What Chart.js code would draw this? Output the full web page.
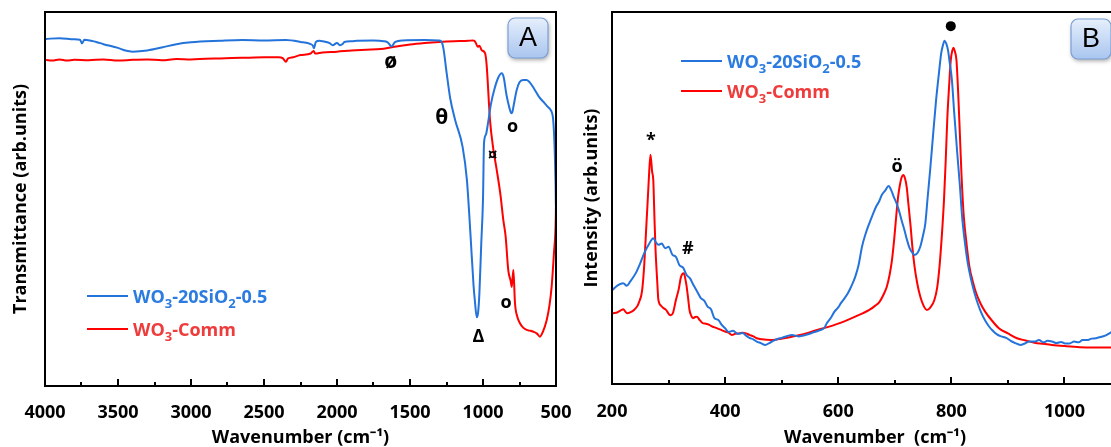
<!DOCTYPE html>
<html>
<head>
<meta charset="utf-8">
<script src="https://cdn.jsdelivr.net/npm/chart.js@4.4.0/dist/chart.umd.min.js"></script>
<style>
	html, body { margin: 0; padding: 0; background: #fff; overflow: hidden; width: 1111px; height: 447px; }
	#wrap-a { position: absolute; left: 0; top: 0; }
	#wrap-b { position: absolute; left: 570px; top: 0; }
</style>
</head>
<body>
<div id="wrap-a"><canvas id="ftir-chart" width="580" height="447"></canvas></div>
<div id="wrap-b"><canvas id="raman-chart" width="570" height="447"></canvas></div>
<script>
// FTIR spectra (panel A), wavenumber in cm-1, transmittance in arbitrary units
var ftirSilicaX = [3995, 3900, 3800, 3760, 3747, 3730, 3650, 3600, 3500, 3450, 3400, 3300, 3200, 3100, 3000, 2800, 2650, 2500, 2350, 2250, 2180, 2165, 2158, 2145, 2120, 2100, 2050, 2030, 2000, 1980, 1960, 1950, 1900, 1863, 1750, 1680, 1650, 1640, 1625, 1610, 1600, 1550, 1400, 1300, 1283, 1270, 1250, 1225, 1190, 1140, 1110, 1085, 1065, 1055, 1043, 1034, 1025, 1012, 1000, 993, 980, 965, 945, 921, 895, 872, 858, 840, 820, 806, 799, 790, 770, 750, 726, 701, 680, 650, 616, 580, 555, 540, 527, 520, 514, 508, 503, 500];
var ftirSilicaY = [92.8, 93.0, 92.7, 92.6, 91.6, 92.6, 92.0, 91.4, 90.4, 89.7, 89.4, 89.7, 90.5, 91.4, 91.9, 92.3, 92.5, 92.4, 92.5, 92.0, 91.4, 91.0, 90.3, 92.0, 92.3, 92.2, 91.7, 91.1, 91.7, 91.1, 91.5, 92.0, 92.2, 92.3, 92.4, 92.2, 91.8, 91.3, 90.8, 91.6, 92.0, 92.4, 92.5, 92.4, 92.0, 90.0, 84.0, 77.0, 71.0, 64.0, 55.0, 40.0, 27.0, 22.5, 18.4, 19.5, 24.5, 38.0, 50.0, 65.0, 67.2, 70.5, 75.5, 79.5, 82.5, 83.6, 82.5, 78.0, 74.5, 72.9, 73.2, 75.0, 79.0, 81.2, 81.8, 81.8, 81.2, 79.5, 77.3, 75.7, 74.6, 74.0, 73.0, 71.5, 68.0, 62.0, 54.0, 45.7];
var ftirCommX = [3995, 3950, 3900, 3850, 3800, 3700, 3600, 3500, 3400, 3300, 3200, 3100, 3000, 2900, 2800, 2720, 2600, 2500, 2400, 2370, 2350, 2335, 2300, 2250, 2180, 2160, 2150, 2100, 2000, 1900, 1800, 1700, 1623, 1500, 1400, 1300, 1200, 1100, 1070, 1060, 1050, 1036, 1025, 1009, 986, 975, 952, 930, 906, 880, 861, 845, 827, 810, 803, 792, 781, 765, 747, 725, 701, 680, 655, 630, 610, 590, 564, 545, 530, 514, 503, 500];
var ftirCommY = [87.2, 87.0, 87.3, 87.0, 87.2, 87.1, 87.3, 87.0, 87.2, 87.3, 87.1, 87.4, 87.3, 87.5, 87.6, 87.7, 87.8, 87.9, 87.9, 87.6, 86.7, 87.6, 87.9, 88.5, 88.9, 89.6, 88.9, 89.2, 89.4, 89.7, 89.9, 90.1, 90.6, 91.3, 91.7, 92.0, 92.2, 92.3, 92.4, 92.3, 91.8, 90.7, 91.0, 89.8, 89.0, 85.8, 71.1, 63.5, 57.8, 51.0, 44.4, 40.0, 31.0, 28.0, 26.5, 31.0, 22.2, 18.5, 16.8, 15.6, 15.0, 14.8, 14.5, 14.0, 13.2, 14.5, 17.6, 21.5, 26.5, 35.5, 42.6, 48.0];

// Raman spectra (panel B), intensity in arbitrary units
var ramanSilicaX = [201, 210, 220, 226, 232, 242, 250, 257, 265, 273, 278, 282, 288, 294, 300, 307, 313, 319, 326, 332, 338, 344, 350, 357, 363, 369, 375, 381, 388, 394, 400, 406, 414, 422, 431, 437, 443, 450, 456, 463, 471, 478, 485, 493, 500, 510, 518, 530, 543, 555, 568, 575, 580, 587, 593, 600, 605, 611, 617, 623, 630, 636, 642, 648, 655, 661, 667, 672, 677, 683, 689, 694, 698, 703, 707, 712, 717, 722, 726, 731, 735, 740, 745, 750, 754, 758, 763, 768, 773, 778, 782, 785, 788, 791, 794, 797, 801, 805, 810, 815, 819, 824, 829, 835, 841, 847, 853, 860, 866, 872, 880, 888, 897, 905, 913, 922, 930, 938, 947, 955, 963, 970, 978, 986, 994, 1001, 1009, 1017, 1025, 1032, 1040, 1048, 1056, 1065, 1072, 1080, 1090, 1110, 1130];
var ramanSilicaY = [25.3, 26.5, 27.1, 26.4, 27.5, 29.8, 32.5, 35.2, 37.5, 39.2, 38.0, 37.4, 37.8, 36.5, 36.9, 34.7, 34.2, 32.0, 31.2, 29.3, 28.4, 26.6, 25.0, 23.1, 22.4, 20.8, 20.1, 17.7, 17.2, 15.9, 15.0, 14.0, 14.3, 13.5, 13.7, 13.0, 12.4, 12.0, 11.4, 11.0, 10.5, 11.0, 11.6, 12.1, 12.4, 12.9, 13.2, 12.8, 13.2, 13.8, 14.5, 15.0, 16.4, 17.8, 19.4, 20.6, 21.8, 23.0, 24.4, 26.2, 28.8, 32.0, 36.9, 40.2, 43.2, 45.5, 47.7, 49.0, 50.8, 52.0, 53.2, 52.0, 50.4, 48.6, 46.8, 44.0, 41.4, 38.5, 36.6, 35.3, 34.7, 35.2, 36.9, 40.0, 43.2, 50.0, 58.4, 67.5, 76.3, 83.5, 88.9, 91.0, 92.3, 91.5, 89.8, 86.5, 81.7, 73.0, 62.9, 53.5, 45.0, 38.0, 32.5, 28.0, 24.4, 21.5, 19.1, 17.0, 15.6, 14.5, 13.4, 12.8, 12.4, 11.6, 11.0, 10.5, 10.9, 11.4, 11.4, 11.8, 11.2, 11.6, 11.4, 11.0, 11.3, 10.9, 10.9, 11.4, 11.2, 11.8, 11.8, 12.2, 12.3, 12.7, 13.0, 13.7, 14.5, 15.5, 16.0];
var ramanCommX = [201, 210, 217, 220, 224, 227, 233, 239, 245, 248, 252, 254, 257, 260, 263, 265, 268, 271, 273, 275, 277, 280, 282, 287, 291, 295, 298, 301, 304, 308, 313, 318, 322, 327, 330, 332, 335, 337, 340, 343, 347, 350, 355, 360, 366, 372, 378, 384, 392, 400, 406, 412, 418, 425, 431, 437, 443, 450, 456, 465, 481, 495, 512, 527, 543, 558, 574, 590, 605, 618, 630, 643, 655, 665, 673, 680, 686, 691, 695, 699, 703, 706, 709, 712, 715, 718, 721, 724, 728, 731, 735, 740, 745, 751, 757, 763, 770, 775, 779, 783, 787, 790, 793, 796, 799, 802, 804, 806, 809, 812, 815, 818, 822, 827, 832, 838, 844, 852, 860, 872, 884, 900, 916, 931, 947, 962, 978, 1000, 1027, 1050, 1080, 1100, 1130];
var ramanCommY = [19.0, 19.3, 19.9, 20.1, 19.4, 19.0, 19.3, 19.9, 21.0, 22.1, 24.0, 26.2, 32.0, 40.5, 49.0, 54.8, 61.6, 57.0, 54.8, 45.0, 36.0, 27.5, 22.6, 21.0, 20.4, 20.0, 19.4, 18.7, 18.5, 19.2, 22.6, 25.5, 28.8, 29.8, 28.0, 26.2, 22.5, 19.9, 18.4, 17.7, 18.0, 18.1, 17.2, 16.4, 16.2, 15.9, 15.4, 15.1, 14.6, 14.1, 13.8, 13.2, 13.5, 13.6, 13.8, 13.6, 13.2, 12.8, 12.3, 12.0, 11.8, 12.1, 12.5, 13.0, 13.6, 14.3, 15.0, 15.7, 16.5, 17.3, 18.1, 19.0, 19.9, 21.0, 22.1, 24.0, 26.2, 29.5, 33.3, 39.0, 45.9, 50.5, 53.5, 55.5, 56.2, 55.3, 53.0, 48.5, 42.3, 37.0, 31.5, 26.8, 23.5, 21.0, 19.9, 20.6, 22.6, 26.0, 31.5, 39.5, 49.5, 60.0, 71.9, 80.0, 87.1, 89.8, 90.4, 89.5, 87.1, 78.5, 67.4, 56.0, 45.0, 37.5, 31.5, 27.5, 24.4, 21.5, 19.4, 17.0, 15.0, 13.6, 12.3, 11.7, 11.1, 10.8, 10.5, 10.2, 9.9, 9.8, 9.8, 9.8, 9.8];

// Axis ticks
var ftirTicksMajor = [500, 1000, 1500, 2000, 2500, 3000, 3500, 4000];
var ftirTicksMinor = [750, 1250, 1750, 2250, 2750, 3250, 3750];
var ramanTicksMajor = [200, 400, 600, 800, 1000];
var ramanTicksMinor = [300, 500, 700, 900, 1100];

// Peak marks
var ftirMarkX = [1632, 1283, 797, 934, 842, 1032];
var ftirMarkY = [86.7, 71.7, 69.2, 61.5, 22.1, 13.2];
var ftirMarkText = ['ø', 'θ', 'o', '¤', 'o', 'Δ'];
var ramanMarkX = [269, 334, 704, 799];
var ramanMarkY = [65.4, 36.3, 58.4, 96.2];
var ramanMarkText = ['*', '#', 'ö', '●'];

// Series labels (_n marks a subscript)
var seriesLabels = ['WO_3-20SiO_2-0.5', 'WO_3-Comm'];

var blueLine = '#2373db';
var redLine = '#ff0000';
var blueText = '#2b7be0';
var redText = '#ee3b3b';
var fontFamily = "'Open Sans', sans-serif";

var toPoints = function (xs, ys) {
	return xs.map(function (x, i) { return { x: x, y: ys[i] }; });
};

// Text with subscripts
var drawRichText = function (c, label, x, y, color) {
	var parts = label.split(/_(\d)/);
	c.save();
	c.fillStyle = color;
	c.textAlign = 'left';
	c.textBaseline = 'alphabetic';
	parts.forEach(function (p, i) {
		var sub = i % 2 === 1;
		c.font = 'bold ' + (sub ? 13 : 18) + 'px ' + fontFamily;
		c.fillText(p, x, y + (sub ? 5 : 0));
		x += c.measureText(p).width;
	});
	c.restore();
};

// Panel letter tag
var drawTag = function (c, x, y, letter) {
	var w = 40, h = 40;
	c.save();
	c.shadowColor = 'rgba(0, 0, 0, 0.35)';
	c.shadowBlur = 4;
	c.shadowOffsetX = 1;
	c.shadowOffsetY = 2;
	var g = c.createLinearGradient(0, y, 0, y + h);
	g.addColorStop(0, '#e6effc');
	g.addColorStop(1, '#a9c5ef');
	c.beginPath();
	c.roundRect(x, y, w, h, 7);
	c.fillStyle = g;
	c.fill();
	c.shadowColor = 'transparent';
	c.strokeStyle = '#7d9fd3';
	c.lineWidth = 1.2;
	c.stroke();
	c.fillStyle = '#000';
	c.font = "27px 'Liberation Sans', sans-serif";
	c.textAlign = 'center';
	c.textBaseline = 'middle';
	c.fillText(letter, x + w / 2, y + h / 2 + 1);
	c.restore();
};

// Frame, inward ticks, marks, legend and tag
var decorPlugin = {
	id: 'decor',
	afterDraw: function (chart) {
		var o = chart.options.plugins.decor;
		var a = chart.chartArea, c = chart.ctx;
		var xs = chart.scales.x, ys = chart.scales.y;
		c.save();
		c.strokeStyle = '#000';
		c.lineWidth = 2;
		c.strokeRect(a.left, a.top, a.right - a.left, a.bottom - a.top);
		var tick = function (v, len) {
			var px = Math.round(xs.getPixelForValue(v));
			c.beginPath();
			c.moveTo(px, a.bottom);
			c.lineTo(px, a.bottom - len);
			c.stroke();
		};
		o.major.forEach(function (v) { tick(v, 7); });
		o.minor.forEach(function (v) { tick(v, 4); });

		c.fillStyle = '#000';
		c.textAlign = 'center';
		c.textBaseline = 'middle';
		o.markText.forEach(function (t, i) {
			var px = xs.getPixelForValue(o.markX[i]);
			var py = ys.getPixelForValue(o.markY[i]);
			if (t === '●') {
				c.beginPath();
				c.arc(px, py, 5, 0, Math.PI * 2);
				c.fill();
				return;
			}
			c.font = 'bold ' + (t === 'θ' ? 21 : (t === 'ø' ? 21 : 18)) + 'px ' + fontFamily;
			c.fillText(t, px, py);
		});

		var lg = o.legend;
		[blueLine, redLine].forEach(function (col, i) {
			var ly = lg.y[i];
			c.strokeStyle = col;
			c.lineWidth = 2;
			c.beginPath();
			c.moveTo(lg.x, ly);
			c.lineTo(lg.x + 41, ly);
			c.stroke();
			drawRichText(c, seriesLabels[i], lg.x + 46, ly + 6.5, i === 0 ? blueText : redText);
		});
		c.restore();
		drawTag(c, o.tag.x, o.tag.y, o.tag.letter);
	}
};

var tickFont = { family: fontFamily, size: 18, weight: 'bold' };
var titleFont = { family: fontFamily, size: 18, weight: 'bold', lineHeight: 1 };
var plainNumber = function (value) { return String(value); };

var lineSet = function (xs, ys, color, label) {
	return {
		label: label,
		data: toPoints(xs, ys),
		borderColor: color,
		borderWidth: 2,
		pointRadius: 0,
		cubicInterpolationMode: 'monotone',
	};
};

// FTIR Chart
var ftirChart = function () {
	var ctx = document.getElementById('ftir-chart').getContext('2d');
	new Chart(ctx, {
		type: 'line',
		data: {
			datasets: [
				lineSet(ftirSilicaX, ftirSilicaY, blueLine, 'WO3-20SiO2-0.5'),
				lineSet(ftirCommX, ftirCommY, redLine, 'WO3-Comm'),
			],
		},
		options: {
			responsive: false,
			animation: false,
			devicePixelRatio: 1,
			layout: { padding: { top: 12, right: 24, left: 0, bottom: 0 } },
			plugins: {
				legend: { display: false },
				tooltip: { enabled: false },
				decor: {
					major: ftirTicksMajor,
					minor: ftirTicksMinor,
					markX: ftirMarkX,
					markY: ftirMarkY,
					markText: ftirMarkText,
					legend: { x: 87, y: [296, 329] },
					tag: { x: 508, y: 18, letter: 'A' },
				},
			},
			scales: {
				x: {
					type: 'linear',
					reverse: true,
					min: 500,
					max: 4000,
					grid: { display: false },
					border: { display: false },
					ticks: { stepSize: 500, color: '#000', font: tickFont, padding: 8, maxRotation: 0, autoSkip: false, callback: plainNumber },
					title: { display: true, text: 'Wavenumber (cm⁻¹)', color: '#000', font: titleFont, padding: { top: 0, bottom: 0 } },
					afterFit: function (scale) {
						scale.height = 61;
						scale.paddingLeft = 0;
						scale.paddingRight = 0;
					},
				},
				y: {
					min: 0,
					max: 100,
					grid: { display: false },
					border: { display: false },
					ticks: { display: false },
					title: { display: true, text: 'Transmittance (arb.units)', color: '#000', font: titleFont, padding: { top: 12, bottom: 0 } },
					afterFit: function (scale) {
						scale.width = 45;
					},
				},
			},
		},
		plugins: [decorPlugin],
	});
};

// Raman Chart
var ramanChart = function () {
	var ctx = document.getElementById('raman-chart').getContext('2d');
	new Chart(ctx, {
		type: 'line',
		data: {
			datasets: [
				lineSet(ramanSilicaX, ramanSilicaY, blueLine, 'WO3-20SiO2-0.5'),
				lineSet(ramanCommX, ramanCommY, redLine, 'WO3-Comm'),
			],
		},
		options: {
			responsive: false,
			animation: false,
			devicePixelRatio: 1,
			layout: { padding: { top: 12, right: 2, left: 0, bottom: 0 } },
			plugins: {
				legend: { display: false },
				tooltip: { enabled: false },
				decor: {
					major: ramanTicksMajor,
					minor: ramanTicksMinor,
					markX: ramanMarkX,
					markY: ramanMarkY,
					markText: ramanMarkText,
					legend: { x: 111, y: [61, 91] },
					tag: { x: 501, y: 19, letter: 'B' },
				},
			},
			scales: {
				x: {
					type: 'linear',
					min: 200,
					max: 1130,
					grid: { display: false },
					border: { display: false },
					ticks: { stepSize: 200, includeBounds: false, color: '#000', font: tickFont, padding: 9, maxRotation: 0, autoSkip: false, callback: plainNumber },
					title: { display: true, text: 'Wavenumber  (cm⁻¹)', color: '#000', font: titleFont, padding: { top: 4, bottom: 0 } },
					afterFit: function (scale) {
						scale.height = 63;
						scale.paddingLeft = 0;
						scale.paddingRight = 0;
					},
				},
				y: {
					min: 0,
					max: 100,
					grid: { display: false },
					border: { display: false },
					ticks: { display: false },
					title: { display: true, text: 'Intensity (arb.units)', color: '#000', font: titleFont, padding: { top: 13, bottom: 0 } },
					afterFit: function (scale) {
						scale.width = 42;
					},
				},
			},
		},
		plugins: [decorPlugin],
	});
};

// Method Calls
ftirChart();
ramanChart();
</script>
</body>
</html>
